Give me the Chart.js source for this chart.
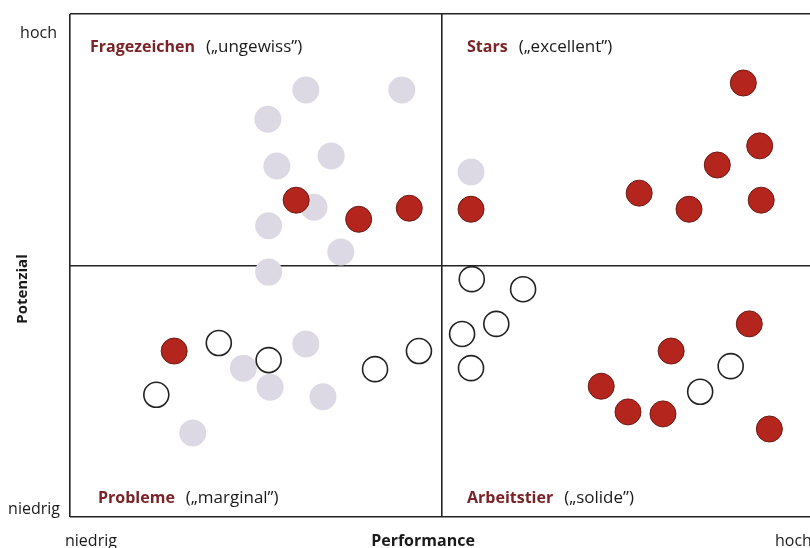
<!DOCTYPE html>
<html>
<head>
<meta charset="utf-8">
<script src="https://cdn.jsdelivr.net/npm/chart.js@4.4.0/dist/chart.umd.min.js"></script>
<style>
  html, body { margin: 0; padding: 0; background: #fff; overflow: hidden; }
  #wrap { width: 830px; height: 548px; }
</style>
</head>
<body>
<div id="wrap"><canvas id="portfolioChart"></canvas></div>
<script>
// Performance (x) / Potenzial (y), scale 0..100, quadrant split at 50
const grayX = [31.7, 44.6, 26.6, 35.1, 27.8, 32.8, 26.7, 36.4, 26.7, 53.9, 31.7, 23.3, 26.9, 34.0, 16.5];
const grayY = [84.9, 84.9, 79.1, 71.8, 69.8, 61.6, 57.9, 52.7, 48.7, 68.6, 34.4, 29.6, 25.8, 23.9, 16.7];

const redX = [30.4, 38.8, 45.6, 53.9, 90.5, 92.7, 87.0, 76.5, 83.2, 92.9, 14.0, 91.3, 80.8, 71.4, 75.0, 79.7, 94.0];
const redY = [63.0, 59.2, 61.4, 61.2, 86.3, 73.8, 70.0, 64.4, 61.2, 63.0, 33.0, 38.4, 33.0, 26.0, 20.9, 20.5, 17.5];

const whiteX = [54.0, 60.9, 57.3, 52.7, 53.9, 20.0, 26.7, 11.6, 41.0, 46.9, 84.7, 88.8];
const whiteY = [47.3, 45.3, 38.4, 36.4, 29.6, 34.6, 31.2, 24.3, 29.4, 33.0, 24.9, 30.0];

const gridTicks = [0, 50, 100];
const axisLow = 'niedrig';
const axisHigh = 'hoch';
const xTitle = 'Performance';
const yTitle = 'Potenzial';
const quadrants = [
    { name: 'Fragezeichen', note: '(„ungewiss”)', x: 0, y: 100, dx: 20 },
    { name: 'Stars', note: '(„excellent”)', x: 50, y: 100, dx: 25 },
    { name: 'Probleme', note: '(„marginal”)', x: 0, y: 0, dx: 28 },
    { name: 'Arbeitstier', note: '(„solide”)', x: 50, y: 0, dx: 25 }
];

function pts(xs, ys) {
    return xs.map((x, i) => ({ x: x, y: ys[i] }));
}

const labelPlugin = {
    id: 'labels',
    afterDraw(chart) {
        const ctx = chart.ctx;
        const xs = chart.scales.x, ys = chart.scales.y;
        const area = chart.chartArea;
        ctx.save();
        ctx.textBaseline = 'alphabetic';
        ctx.fillStyle = '#1a1a1a';
        ctx.font = '16px "Open Sans"';
        // y axis ends
        ctx.textAlign = 'right';
        ctx.fillText(axisHigh, area.left - 13, area.top + 24);
        ctx.fillText(axisLow, area.left - 10, area.bottom - 3);
        // x axis ends
        ctx.textAlign = 'left';
        ctx.fillText(axisLow, area.left - 5, area.bottom + 29);
        ctx.fillText(axisHigh, 775, area.bottom + 29);
        // axis titles
        ctx.font = 'bold 16px "Open Sans"';
        ctx.textAlign = 'center';
        ctx.fillText(xTitle, 423, area.bottom + 29);
        ctx.save();
        ctx.translate(27, 289);
        ctx.rotate(-Math.PI / 2);
        ctx.font = 'bold 15px "Open Sans"';
        ctx.fillText(yTitle, 0, 0);
        ctx.restore();
        // quadrant titles
        ctx.textAlign = 'left';
        quadrants.forEach(q => {
            const px = xs.getPixelForValue(q.x) + q.dx;
            const py = q.y === 100 ? ys.getPixelForValue(q.y) + 38 : ys.getPixelForValue(q.y) - 14;
            ctx.font = 'bold 16px "Open Sans"';
            ctx.fillStyle = '#7b2327';
            ctx.fillText(q.name, px, py);
            const w = ctx.measureText(q.name).width;
            ctx.font = '17px "Open Sans"';
            ctx.fillStyle = '#1a1a1a';
            ctx.fillText(q.note, px + w + 11, py);
        });
        ctx.restore();
    }
};

const ctx = document.getElementById('portfolioChart').getContext('2d');
new Chart(ctx, {
    type: 'scatter',
    data: {
        datasets: [
            {
                label: 'rot',
                data: pts(redX, redY),
                backgroundColor: '#b3251d',
                borderColor: '#6e1a14',
                borderWidth: 1,
                pointRadius: 13,
                order: 1
            },
            {
                label: 'offen',
                data: pts(whiteX, whiteY),
                backgroundColor: '#ffffff',
                borderColor: '#222222',
                borderWidth: 1.6,
                pointRadius: 12.5,
                order: 2
            },
            {
                label: 'grau',
                data: pts(grayX, grayY),
                backgroundColor: '#dcd9e5',
                borderWidth: 0,
                pointRadius: 13.5,
                order: 3
            }
        ]
    },
    options: {
        responsive: true,
        maintainAspectRatio: false,
        animation: false,
        events: [],
        layout: {
            padding: { left: 70, top: 14, right: 16, bottom: 31 }
        },
        scales: {
            x: {
                min: 0, max: 100,
                afterBuildTicks: axis => { axis.ticks = gridTicks.map(v => ({ value: v })); },
                ticks: { display: false },
                grid: { color: '#222222', lineWidth: 1.6, drawTicks: false },
                border: { display: false }
            },
            y: {
                min: 0, max: 100,
                afterBuildTicks: axis => { axis.ticks = gridTicks.map(v => ({ value: v })); },
                ticks: { display: false },
                grid: { color: '#222222', lineWidth: 1.6, drawTicks: false },
                border: { display: false }
            }
        },
        plugins: {
            legend: { display: false },
            tooltip: { enabled: false }
        }
    },
    plugins: [labelPlugin]
});
</script>
</body>
</html>
